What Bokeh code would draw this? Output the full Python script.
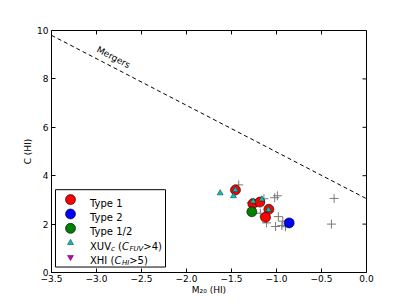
import math
from bokeh.plotting import figure
from bokeh.models import FixedTicker
from bokeh.core.properties import value
from bokeh.embed import file_html
from bokeh.resources import INLINE

# ---------------- data ----------------
type1_x = [-1.456, -1.263, -1.185, -1.085, -1.122]
type1_y = [3.41, 2.84, 2.91, 2.61, 2.28]
type2_x = [-0.859]
type2_y = [2.05]
type12_x = [-1.274]
type12_y = [2.51]
xuv_x = [-1.626, -1.478, -1.456, -1.259, -1.163, -1.089]
xuv_y = [3.28, 3.16, 3.41, 2.94, 3.03, 2.59]
xhi_x = []
xhi_y = []
other_x = [-1.42, -1.28, -1.14, -1.18, -1.11, -1.02, -0.99, -0.98, -0.93, -1.01, -0.94, -0.90, -0.36, -0.39]
other_y = [3.62, 2.88, 3.05, 2.45, 2.05, 3.09, 3.17, 2.31, 2.12, 1.90, 1.94, 1.89, 3.06, 2.00]
merger_x = [-3.5, 0.0]
merger_y = [9.8, 3.05]
merger_label = "Mergers"
x_ticks = [-3.5, -3.0, -2.5, -2.0, -1.5, -1.0, -0.5, 0.0]
x_tick_labels = ["\u22123.5", "\u22123.0", "\u22122.5", "\u22122.0", "\u22121.5", "\u22121.0", "\u22120.5", "0.0"]
y_ticks = [0, 2, 4, 6, 8, 10]
y_tick_labels = ["0", "2", "4", "6", "8", "10"]
x_label = "M\u2082\u2080 (HI)"
y_label = "C (HI)"

# ---------------- layout ----------------
X0, X1 = -3.5, 0.0
Y0, Y1 = 0.0, 10.0
BL, BT = 51, 30
FW, FH = 315, 244
BR, BB = 33, 23
W = BL + FW + BR
H = BT + FH + BB
FONT = "DejaVu Sans"
TICK = 4
CSIZE = 10

def dx(px):
    return X0 + px * (X1 - X0) / FW

def dy(py):
    return Y1 - py * (Y1 - Y0) / FH

p = figure(width=W, height=H, x_range=(X0, X1), y_range=(Y0, Y1),
           output_backend="svg", toolbar_location=None,
           min_border_left=BL, min_border_right=BR, min_border_top=BT, min_border_bottom=BB,
           x_axis_label=x_label, y_axis_label=y_label)
p.grid.visible = False
p.outline_line_color = "black"
p.outline_line_width = 1
p.background_fill_color = "white"
p.border_fill_color = "white"

def style_axis(ax, ticks, labels):
    ax.ticker = FixedTicker(ticks=ticks)
    ax.major_label_overrides = {t: l for t, l in zip(ticks, labels)}
    ax.major_tick_in = TICK
    ax.major_tick_out = 0
    ax.minor_tick_line_color = None
    ax.axis_line_color = "black"
    ax.major_tick_line_color = "black"
    ax.major_label_text_font = FONT
    ax.major_label_text_font_size = "9px"
    ax.major_label_text_color = "black"
    ax.axis_label_text_font = FONT
    ax.axis_label_text_font_size = "9px"
    ax.axis_label_text_font_style = "normal"
    ax.axis_label_text_color = "black"

style_axis(p.xaxis[0], x_ticks, x_tick_labels)
p.xaxis[0].major_label_standoff = 2
p.xaxis[0].axis_label_standoff = 0
style_axis(p.yaxis[0], y_ticks, y_tick_labels)
p.yaxis[0].major_label_standoff = 3
p.yaxis[0].axis_label_standoff = 1

# inward ticks on the top and right edges of the frame
p.segment(x0=x_ticks, x1=x_ticks, y0=[Y1] * len(x_ticks), y1=[dy(TICK)] * len(x_ticks),
          line_color="black", line_width=1)
p.segment(x0=[X1] * len(y_ticks), x1=[dx(FW - TICK)] * len(y_ticks), y0=y_ticks, y1=y_ticks,
          line_color="black", line_width=1)

# merger line
p.line(merger_x, merger_y, line_color="black", line_width=1, line_dash="4 3")
ang = math.atan2((merger_y[1] - merger_y[0]) * FH / (Y1 - Y0),
                 (merger_x[1] - merger_x[0]) * FW / (X1 - X0))
p.text(x=[dx(62)], y=[dy(27)], text=[merger_label], angle=ang,
       text_font=value(FONT), text_font_size=value("9px"),
       text_align="center", text_baseline="middle", text_color="black")

# points
p.scatter(other_x, other_y, marker="cross", size=9, line_color="#7a7a7a", line_width=1)
p.scatter(type1_x, type1_y, marker="circle", size=CSIZE, fill_color="#ff0000", line_color="black", line_width=0.6)
p.scatter(type2_x, type2_y, marker="circle", size=CSIZE, fill_color="#0000ff", line_color="black", line_width=0.6)
p.scatter(type12_x, type12_y, marker="circle", size=CSIZE, fill_color="#008000", line_color="black", line_width=0.6)
p.scatter(xuv_x, xuv_y, marker="triangle", size=6, fill_color="#00bfbf", line_color="#003030", line_width=0.5)
p.scatter(xhi_x, xhi_y, marker="inverted_triangle", size=6, fill_color="#bf00bf", line_color="#300030", line_width=0.5)

# ---------------- legend (drawn by hand, to keep sub-scripts) ----------------
p.quad(left=[dx(4)], right=[dx(114)], top=[dy(160.5)], bottom=[dy(238.5)],
       fill_color="white", line_color="black", line_width=1)
rows_py = [170.5, 185, 199.5, 214, 228.5]
mk_px = 19
tx_px = 38.5
p.scatter([dx(mk_px)] * 3, [dy(r) for r in rows_py[:3]], marker="circle", size=CSIZE,
          fill_color=["#ff0000", "#0000ff", "#008000"], line_color="black", line_width=0.6)
p.scatter([dx(mk_px)], [dy(rows_py[3])], marker="triangle", size=6,
          fill_color="#00bfbf", line_color="#003030", line_width=0.5)
p.scatter([dx(mk_px)], [dy(rows_py[4])], marker="inverted_triangle", size=6,
          fill_color="#bf00bf", line_color="#300030", line_width=0.5)

WID = {' ': 0.318, '(': 0.390, ')': 0.390, '/': 0.337, '1': 0.636, '2': 0.636, '4': 0.636,
       '5': 0.636, '>': 0.838, 'C': 0.698, 'F': 0.575, 'H': 0.752, 'I': 0.295, 'T': 0.611,
       'U': 0.732, 'V': 0.684, 'X': 0.685, 'c': 0.550, 'e': 0.615, 'p': 0.635, 'y': 0.592}
LFS = 10.0
legend_rows = [
    [("Type 1", 1.0, "normal", 0)],
    [("Type 2", 1.0, "normal", 0)],
    [("Type 1/2", 1.0, "normal", 0)],
    [("XUV", 1.0, "normal", 0), ("c", 0.7, "italic", 1), (" (", 1.0, "normal", 0),
     ("C", 1.0, "italic", 0), ("FUV", 0.7, "italic", 1), (">4)", 1.0, "normal", 0)],
    [("XHI", 1.0, "normal", 0), (" (", 1.0, "normal", 0), ("C", 1.0, "italic", 0),
     ("HI", 0.7, "italic", 1), (">5)", 1.0, "normal", 0)],
]

def adv(s, fs):
    return sum(WID.get(ch, 0.6) for ch in s) * fs

for rp, runs in zip(rows_py, legend_rows):
    cx = tx_px
    base = rp + 0.36 * LFS
    for txt, sc, sty, sub in runs:
        fs = LFS * sc
        lead = len(txt) - len(txt.lstrip(" "))
        cx += adv(" " * lead, fs)
        core = txt.strip(" ")
        by = base + (2.6 if sub else 0)
        p.text(x=[dx(cx)], y=[dy(by)], text=[core], text_font=value(FONT),
               text_font_size=value(f"{fs:.1f}px"), text_font_style=sty,
               text_align="left", text_baseline="alphabetic", text_color="black")
        cx += adv(core, fs)
        if sty == "italic" and not sub:
            cx += 0.5

open("out.html", "w").write(file_html(p, INLINE))
